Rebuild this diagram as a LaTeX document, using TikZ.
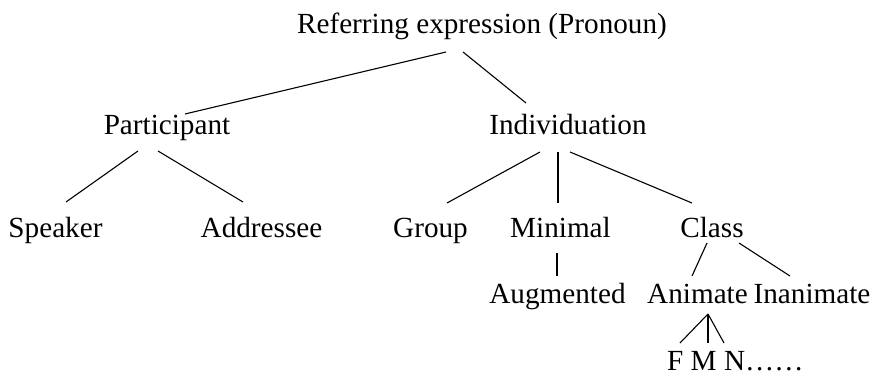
\documentclass[tikz,border=0pt]{standalone}
\usepackage{fontspec}
\setmainfont{Liberation Serif}
\begin{document}
\begin{tikzpicture}[x=1pt,y=-1pt,
  lbl/.style={anchor=base,inner sep=0pt,font=\fontsize{29.2}{34}\selectfont},
  edge/.style={line width=1.1pt,black}]
\useasboundingbox (0,0) rectangle (875,374);
% labels
\node[lbl] (root) at (482,34) {Referring expression (Pronoun)};
\node[lbl] (part) at (167,135) {Participant};
\node[lbl] (indiv) at (568,135) {Individuation};
\node[lbl] (spk) at (55.5,237) {Speaker};
\node[lbl] (addr) at (261.5,237) {Addressee};
\node[lbl] (grp) at (430.5,237) {Group};
\node[lbl] (mini) at (560.5,237) {Minimal};
\node[lbl] (cls) at (712,237) {Class};
\node[lbl] (aug) at (557.5,303) {Augmented};
\node[lbl] (anim) at (697.5,303) {Animate};
\node[lbl] (inan) at (812,303) {Inanimate};
\node[lbl,anchor=base west] (fmn) at (667,370) {F M N……};
% connector ends
\coordinate (r1) at (446,52);  \coordinate (p0) at (185,114);
\coordinate (r2) at (463,52);  \coordinate (i0) at (526,103);
\coordinate (p1) at (138,151); \coordinate (s0) at (66,202);
\coordinate (p2) at (158,151); \coordinate (a0) at (243,202);
\coordinate (i1) at (540,152); \coordinate (g0) at (447,203);
\coordinate (i2) at (558,152); \coordinate (m0) at (558,203);
\coordinate (i3) at (570,152); \coordinate (c0) at (692,203);
\coordinate (m1) at (557,253); \coordinate (u0) at (557,276);
\coordinate (c1) at (707,243); \coordinate (n0) at (692,276);
\coordinate (c2) at (739,243); \coordinate (in0) at (790,276);
\coordinate (an) at (708,314);
\coordinate (f0) at (680,343); \coordinate (mm0) at (708,343); \coordinate (nn0) at (724,343);
% connectors
\draw[edge] (r1) -- (p0);
\draw[edge] (r2) -- (i0);
\draw[edge] (p1) -- (s0);
\draw[edge] (p2) -- (a0);
\draw[edge] (i1) -- (g0);
\draw[edge] (i2) -- (m0);
\draw[edge] (i3) -- (c0);
\draw[edge] (m1) -- (u0);
\draw[edge] (c1) -- (n0);
\draw[edge] (c2) -- (in0);
\draw[edge] (an) -- (f0);
\draw[edge] (an) -- (mm0);
\draw[edge] (an) -- (nn0);
\end{tikzpicture}
\end{document}
